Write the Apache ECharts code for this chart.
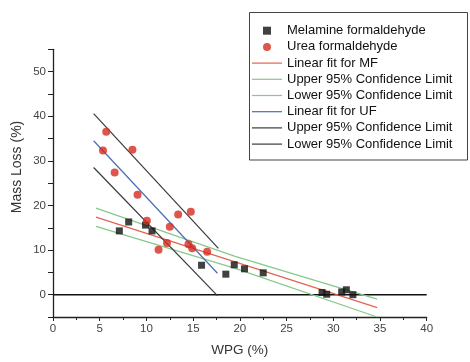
<!DOCTYPE html>
<html><head><meta charset="utf-8">
<script src="https://cdn.jsdelivr.net/npm/echarts@6/dist/echarts.min.js"></script>
<style>html,body{margin:0;padding:0;background:#fff}#c{width:470px;height:362px}</style>
</head><body><div id="c"></div>
<script>
const mfX = [7.1, 8.1, 9.9, 10.6, 15.9, 18.5, 19.4, 20.5, 22.5, 28.8, 29.3, 30.9, 31.4, 32.1];
const mfY = [14.3, 16.3, 15.6, 14.3, 6.6, 4.6, 6.7, 5.8, 4.9, 0.5, 0.1, 0.6, 1.1, 0.0];
const ufX = [5.35, 5.7, 6.6, 8.5, 9.05, 10.05, 11.3, 12.2, 12.5, 13.4, 14.5, 14.75, 14.9, 16.5];
const ufY = [32.3, 36.5, 27.4, 32.5, 22.4, 16.6, 10.1, 11.6, 15.2, 18.0, 11.3, 18.6, 10.4, 9.6];
const mfFitX = [4.6, 34.7];
const mfFitY = [17.4, -2.9];
const mfUpperX = [4.6, 19.5, 34.7];
const mfUpperY = [19.4, 8.6, -1.0];
const mfLowerX = [4.6, 19.5, 34.7];
const mfLowerY = [15.3, 5.9, -5.0];
const ufFitX = [4.35, 17.6];
const ufFitY = [34.5, 4.8];
const ufUpperX = [4.35, 17.7];
const ufUpperY = [40.6, 10.4];
const ufLowerX = [4.35, 17.6];
const ufLowerY = [28.5, -0.2];
const zeroX = [0, 40];
const zeroY = [0, 0];
const names = ['Melamine formaldehyde','Urea formaldehyde','Linear fit for MF','Upper 95% Confidence Limit','Lower 95% Confidence Limit','Linear fit for UF','Upper 95% Confidence Limit ','Lower 95% Confidence Limit  '];

const zip = (a, b) => a.map((v, i) => [v, b[i]]);
const FONT = 'Liberation Sans, Arial, sans-serif';
const LINE_ICON = 'path://M0,0H300V12H0Z';
function lineS(name, xs, ys, color) {
  return {name, type: 'line', data: zip(xs, ys), symbol: 'none', lineStyle: {color, width: 1.2}, itemStyle: {color}, z: 3, silent: true};
}
const legendData = names.map((n, i) => ({
  name: n,
  icon: i === 0 ? 'path://M0,0H10V10H0Z' : (i === 1 ? 'circle' : LINE_ICON)
}));
const chart = echarts.init(document.getElementById('c'), null, {renderer: 'canvas'});
chart.setOption({
  animation: false,
  backgroundColor: '#fff',
  grid: {left: 53, right: 43.3, top: 49.3, bottom: 40.5},
  xAxis: {
    type: 'value', min: 0, max: 40, interval: 5,
    axisLine: {show: true, onZero: false, lineStyle: {color: '#222', width: 1.3}},
    axisTick: {show: true, length: 4, lineStyle: {color: '#222'}},
    minorTick: {show: true, splitNumber: 2, length: 3, lineStyle: {color: '#222'}},
    splitLine: {show: false},
    axisLabel: {color: '#444', fontSize: 11.5, fontFamily: FONT, margin: 6},
    name: 'WPG (%)', nameLocation: 'middle', nameGap: 26,
    nameTextStyle: {color: '#333', fontSize: 13.5, fontFamily: FONT}
  },
  yAxis: {
    type: 'value', min: -5, max: 55, interval: 5,
    axisLine: {show: true, onZero: false, lineStyle: {color: '#222', width: 1.3}},
    axisTick: {show: true, length: 5, lineStyle: {color: '#222'}},
    splitLine: {show: false},
    axisLabel: {color: '#444', fontSize: 11.5, fontFamily: FONT, margin: 7,
      formatter: v => (v % 10 === 0 && v >= 0 && v <= 50) ? String(v) : ''}
  },
  legend: {
    orient: 'vertical', left: 252, top: 23.7, padding: 0,
    itemWidth: 30, itemHeight: 8, itemGap: 2.2, symbolKeepAspect: true,
    textStyle: {color: '#111', fontSize: 13, fontFamily: FONT, lineHeight: 14},
    data: legendData
  },
  graphic: [
    {type: 'rect', shape: {x: 249.5, y: 12.5, width: 218, height: 147.5}, style: {fill: 'none', stroke: '#444', lineWidth: 1}, z: 0},
    {type: 'text', x: 17, y: 167, rotation: Math.PI / 2,
      style: {text: 'Mass Loss (%)', fill: '#333', font: '14px ' + FONT, align: 'center', verticalAlign: 'middle'}}
  ],
  series: [
    {name: names[0], type: 'scatter', symbol: 'rect', symbolSize: 7, data: zip(mfX, mfY), itemStyle: {color: '#111'}, z: 5},
    {name: names[1], type: 'scatter', symbol: 'circle', symbolSize: 8, data: zip(ufX, ufY), itemStyle: {color: '#d42a1e'}, z: 6},
    lineS(names[2], mfFitX, mfFitY, '#e2634f'),
    lineS(names[3], mfUpperX, mfUpperY, '#86c98a'),
    lineS(names[4], mfLowerX, mfLowerY, '#86c98a'),
    lineS(names[5], ufFitX, ufFitY, '#4a6db3'),
    lineS(names[6], ufUpperX, ufUpperY, '#3a3a3a'),
    lineS(names[7], ufLowerX, ufLowerY, '#3a3a3a'),
    {type: 'line', data: zip(zeroX, zeroY), symbol: 'none', lineStyle: {color: '#111', width: 1.6}, z: 2, silent: true}
  ]
});
</script></body></html>
